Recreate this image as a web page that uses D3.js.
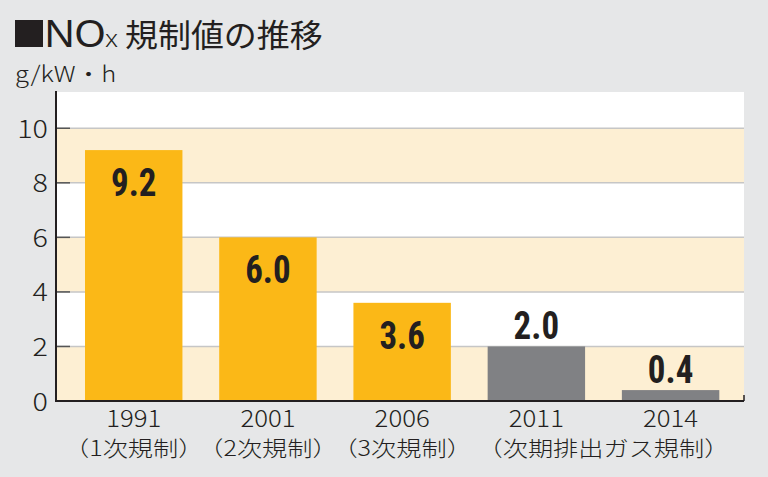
<!DOCTYPE html>
<html><head><meta charset="utf-8">
<script src="https://cdn.jsdelivr.net/npm/d3@7"></script>
<style>
html,body{margin:0;padding:0;background:#e6e7e8;}
svg{display:block;}
</style></head>
<body>
<svg id="chart" width="768" height="477"></svg>
<script>
const categories = ["1991", "2001", "2006", "2011", "2014"];
const subLabels = ["（1次規制）", "（2次規制）", "（3次規制）", "（次期排出ガス規制）", ""];
const values = [9.2, 6.0, 3.6, 2.0, 0.4];
const phases = ["past", "past", "past", "next", "next"];
const yTicks = [0, 2, 4, 6, 8, 10];
const valueLabels = ["9.2", "6.0", "3.6", "2.0", "0.4"];

const W = 768, H = 477;
const m = {left: 56, right: 24, top: 92, bottom: 76};
const svg = d3.select("#chart");
svg.append("rect").attr("width", W).attr("height", H).attr("fill", "#e6e7e8");

const x = d3.scaleBand().domain(categories).range([m.left, W - m.right])
  .paddingInner(0.274).paddingOuter(0.2).align(0.54);
const y = d3.scaleLinear().domain([0, 11.33]).range([H - m.bottom, m.top]);

const jp = "'Noto Sans CJK JP','Noto Sans',sans-serif";
const lat = "'Noto Sans','Open Sans',sans-serif";
const cond = "'Liberation Sans Narrow','Roboto Condensed','Arial Narrow',sans-serif";
const ink = "#231f20";

function placeText(sel, fx, fy, sx) {
  sel.attr("transform", (d, i) => `translate(${fx(d, i)},${fy(d, i)}) scale(${sx},1)`);
}

// plot background
svg.append("rect").attr("x", m.left).attr("y", m.top).attr("width", W - m.right - m.left).attr("height", y(0) - m.top).attr("fill", "#ffffff");
// bands
const bands = [[0, 2], [4, 6], [8, 10]];
svg.selectAll("rect.band").data(bands).join("rect").attr("class", "band")
  .attr("x", m.left).attr("width", W - m.right - m.left)
  .attr("y", d => y(d[1])).attr("height", d => y(d[0]) - y(d[1]))
  .attr("fill", "#fdefd3");
// gridlines
svg.selectAll("line.grid").data(yTicks.filter(t => t > 0)).join("line").attr("class", "grid")
  .attr("x1", m.left).attr("x2", W - m.right)
  .attr("y1", d => y(d)).attr("y2", d => y(d))
  .attr("stroke", "#c6c6c6").attr("stroke-width", 1.5);

// bars
const color = {past: "#fbb817", next: "#808184"};
svg.selectAll("rect.bar").data(values).join("rect").attr("class", "bar")
  .attr("x", (d, i) => x(categories[i])).attr("width", x.bandwidth())
  .attr("y", d => y(d)).attr("height", d => y(0) - y(d))
  .attr("fill", (d, i) => color[phases[i]]);

// value labels
const vl = svg.selectAll("text.val").data(values).join("text").attr("class", "val")
  .attr("text-anchor", "middle")
  .attr("font-family", cond).attr("font-weight", "bold").attr("font-size", 38)
  .attr("fill", ink)
  .text((d, i) => valueLabels[i]);
placeText(vl, (d, i) => x(categories[i]) + x.bandwidth() / 2, d => d >= 3 ? y(d) + 46 : y(d) - 7, 0.92);

// y axis
const yAxis = d3.axisLeft(y).tickValues(yTicks).tickSize(0).tickFormat(d3.format("d"));
const gy = svg.append("g").attr("transform", `translate(${m.left},0)`).call(yAxis);
gy.select(".domain").remove();
gy.selectAll("text")
  .attr("font-family", jp).attr("font-weight", 300).attr("font-size", 25).attr("fill", ink)
  .attr("x", 0).attr("dy", "0.36em").attr("transform", "translate(-8,0) scale(1.15,1)");
// inward ticks
svg.selectAll("line.ytick").data(yTicks.filter(t => t > 0)).join("line").attr("class", "ytick")
  .attr("x1", m.left).attr("x2", m.left + 14)
  .attr("y1", d => y(d)).attr("y2", d => y(d))
  .attr("stroke", "#555").attr("stroke-width", 1.5);
// axis lines
svg.append("line").attr("x1", m.left).attr("x2", m.left).attr("y1", m.top - 1).attr("y2", y(0) + 1)
  .attr("stroke", ink).attr("stroke-width", 2);
svg.append("line").attr("x1", m.left).attr("x2", W - m.right).attr("y1", y(0)).attr("y2", y(0))
  .attr("stroke", ink).attr("stroke-width", 2);
svg.append("line").attr("x1", W - m.right).attr("x2", W - m.right).attr("y1", y(0)).attr("y2", y(0) - 6)
  .attr("stroke", ink).attr("stroke-width", 1.5);

// x labels
const gx = svg.append("g");
const cl = gx.selectAll("text.cat").data(categories).join("text").attr("class", "cat")
  .attr("text-anchor", "middle").attr("font-family", jp).attr("font-weight", 300).attr("font-size", 23).attr("fill", ink)
  .text(d => d);
placeText(cl, d => x(d) + x.bandwidth() / 2, () => 427, 1.12);
const sl = gx.selectAll("text.sub").data(subLabels).join("text").attr("class", "sub")
  .attr("text-anchor", "middle").attr("font-family", jp).attr("font-weight", 300).attr("font-size", 21).attr("fill", ink)
  .text(d => d);
placeText(sl, (d, i) => i === 3 ? (x(categories[3]) + x(categories[4]) + x.bandwidth()) / 2 : x(categories[i]) + x.bandwidth() / 2, () => 456, 1.2);

// title
svg.append("rect").attr("x", 15).attr("y", 20).attr("width", 28).attr("height", 27).attr("fill", ink);
const t1 = svg.append("text").attr("font-family", lat).attr("font-weight", 400).attr("fill", ink)
  .attr("transform", "translate(44,47) scale(1.08,1)");
t1.append("tspan").attr("font-size", 38).attr("letter-spacing", -1).text("NO");
t1.append("tspan").attr("font-size", 24).attr("font-weight", 300).text("x");
svg.append("text").attr("font-family", jp).attr("font-weight", 400).attr("font-size", 32).attr("fill", ink)
  .attr("transform", "translate(125,47) scale(1.03,1)").text("規制値の推移");
svg.append("text").attr("font-family", jp).attr("font-weight", 300).attr("font-size", 22).attr("fill", ink)
  .attr("transform", "translate(15,82) scale(1.16,1)").text("g/kW・h");
</script>
</body></html>
